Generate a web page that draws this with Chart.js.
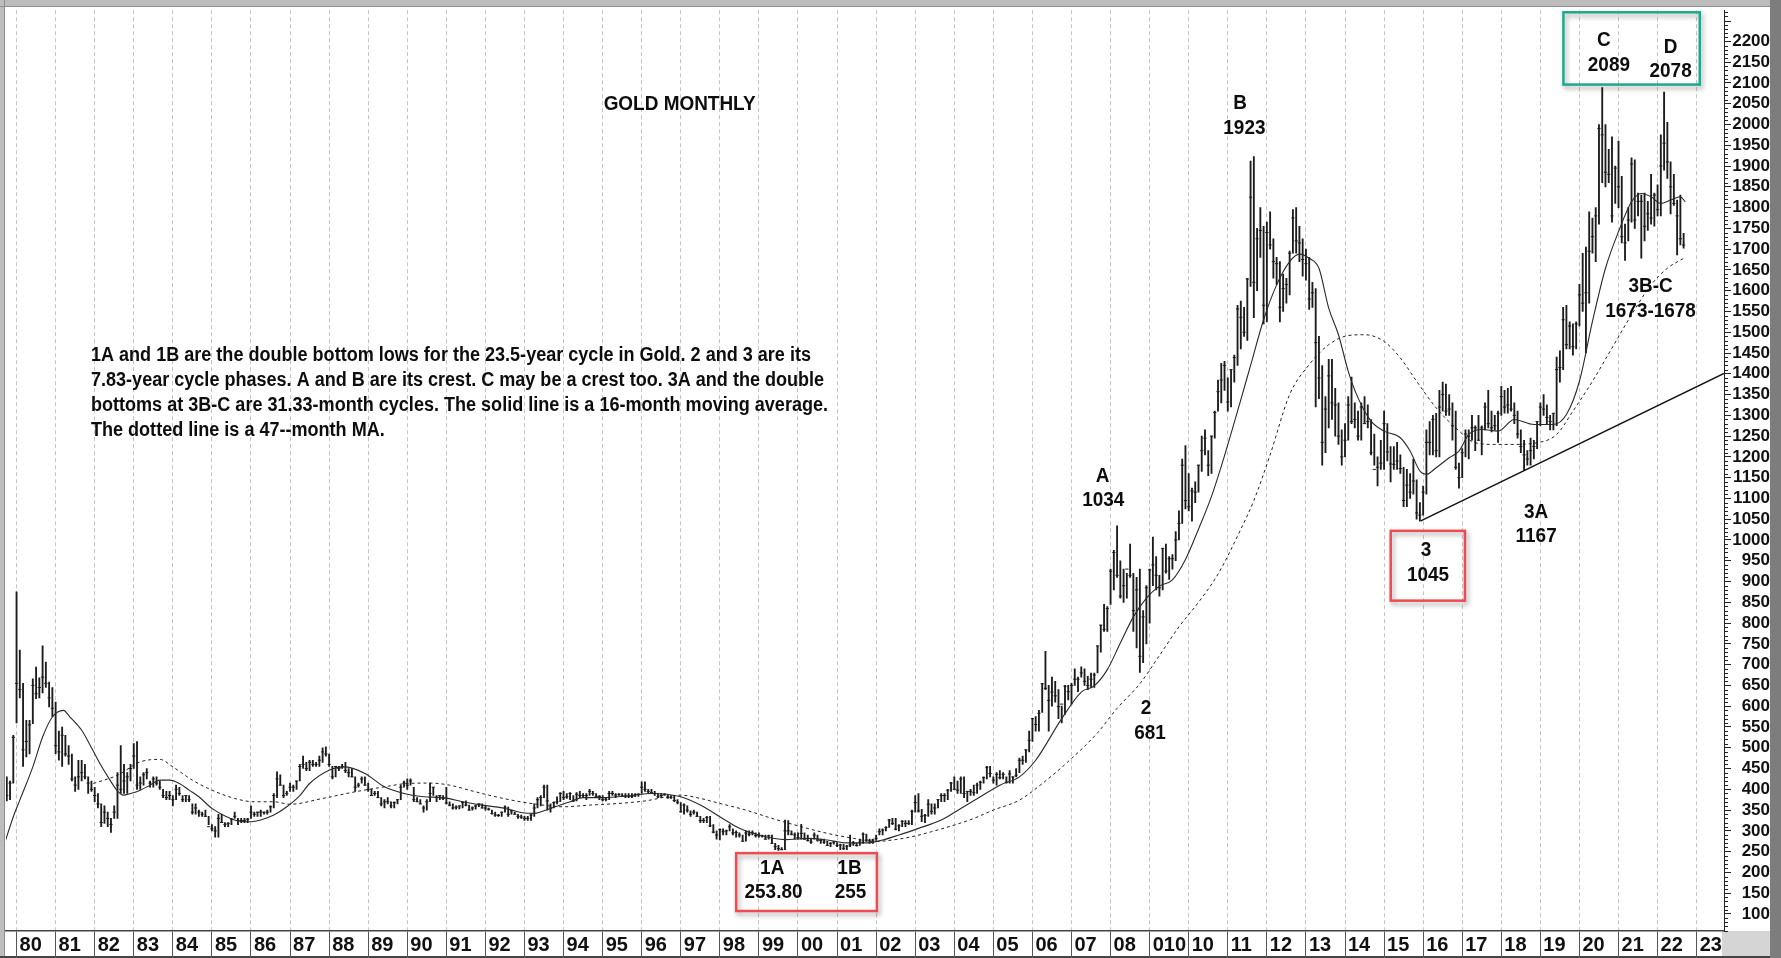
<!DOCTYPE html>
<html>
<head>
<meta charset="utf-8">
<title>Gold Monthly</title>
<script src="https://cdn.jsdelivr.net/npm/chart.js@4.4.1/dist/chart.umd.min.js"></script>
<style>
    html, body { margin: 0; padding: 0; background: #fff; }
    #wrap { width: 1781px; height: 958px; }
</style>
</head>
<body>
<div id="wrap"><canvas id="gold-chart" width="1781" height="958"></canvas></div>
<script>
// ===== Data (monthly bars, Oct 1979 .. Sep 2022) =====
const firstMonth = 1979.75; // Oct 1979 as decimal year

const highs = [
    /*1979*/ 430, 420, 530,
    /*1980*/ 875, 735, 655, 566, 566, 666, 694, 668, 745, 706, 658, 645,
    /*1981*/ 610, 540, 550, 530, 505, 485, 430, 470, 470, 460, 430, 420,
    /*1982*/ 405, 390, 365, 360, 345, 330, 360, 440, 505, 460, 440, 460,
    /*1983*/ 510, 515, 430, 440, 450, 420, 430, 430, 420, 400, 395, 395,
    /*1984*/ 385, 410, 405, 385, 385, 385, 365, 365, 350, 345, 350, 335,
    /*1985*/ 315, 310, 340, 340, 320, 320, 330, 345, 330, 330, 330, 330,
    /*1986*/ 360, 345, 345, 350, 345, 350, 360, 390, 442, 435, 410, 395,
    /*1987*/ 415, 410, 420, 460, 480, 465, 470, 470, 465, 480, 500, 502,
    /*1988*/ 485, 455, 455, 455, 460, 465, 450, 450, 430, 415, 430, 430,
    /*1989*/ 415, 400, 395, 395, 380, 375, 380, 370, 370, 375, 410, 420,
    /*1990*/ 425, 425, 405, 380, 375, 360, 375, 415, 405, 385, 385, 385,
    /*1991*/ 405, 370, 365, 360, 360, 370, 372, 362, 358, 362, 365, 365,
    /*1992*/ 360, 355, 350, 345, 340, 345, 360, 357, 350, 345, 340, 338,
    /*1993*/ 335, 335, 340, 365, 380, 385, 410, 410, 365, 370, 382, 392,
    /*1994*/ 395, 390, 392, 385, 392, 395, 390, 390, 400, 395, 390, 385,
    /*1995*/ 385, 380, 395, 395, 390, 390, 390, 390, 390, 390, 390, 390,
    /*1996*/ 418, 418, 400, 400, 395, 390, 390, 390, 386, 385, 385, 375,
    /*1997*/ 368, 365, 360, 348, 350, 345, 335, 330, 335, 335, 315, 300,
    /*1998*/ 305, 305, 302, 315, 305, 300, 295, 290, 300, 300, 300, 295,
    /*1999*/ 295, 290, 290, 290, 290, 270, 265, 260, 326, 325, 300, 295,
    /*2000*/ 295, 316, 295, 290, 280, 295, 290, 280, 280, 275, 272, 275,
    /*2001*/ 272, 268, 268, 265, 290, 275, 270, 280, 295, 292, 280, 280,
    /*2002*/ 290, 305, 305, 310, 328, 330, 330, 315, 325, 325, 325, 350,
    /*2003*/ 385, 390, 352, 340, 375, 365, 365, 375, 390, 390, 400, 417,
    /*2004*/ 430, 420, 430, 430, 395, 400, 410, 415, 420, 430, 455, 455,
    /*2005*/ 430, 440, 445, 440, 430, 445, 430, 450, 475, 480, 495, 540,
    /*2006*/ 570, 575, 590, 655, 732, 650, 670, 660, 640, 600, 650, 650,
    /*2007*/ 655, 690, 670, 695, 690, 672, 680, 680, 745, 795, 845, 840,
    /*2008*/ 930, 975, 1034, 950, 930, 920, 990, 920, 910, 930, 830, 890,
    /*2009*/ 930, 1007, 960, 915, 980, 990, 960, 965, 1020, 1070, 1195, 1227,
    /*2010*/ 1160, 1125, 1140, 1180, 1250, 1265, 1215, 1250, 1310, 1385, 1425, 1430,
    /*2011*/ 1390, 1410, 1445, 1565, 1575, 1560, 1630, 1912, 1923, 1750, 1800, 1755,
    /*2012*/ 1765, 1790, 1725, 1680, 1670, 1640, 1630, 1695, 1795, 1800, 1755, 1725,
    /*2013*/ 1700, 1680, 1620, 1605, 1490, 1420, 1345, 1435, 1435, 1365, 1330, 1265,
    /*2014*/ 1280, 1345, 1392, 1330, 1310, 1330, 1345, 1325, 1290, 1255, 1200, 1240,
    /*2015*/ 1310, 1280, 1225, 1225, 1235, 1205, 1175, 1170, 1160, 1195, 1145, 1090,
    /*2016*/ 1130, 1265, 1285, 1300, 1305, 1360, 1380, 1375, 1350, 1330, 1310, 1185,
    /*2017*/ 1220, 1265, 1265, 1300, 1275, 1300, 1275, 1330, 1360, 1310, 1300, 1310,
    /*2018*/ 1370, 1360, 1365, 1370, 1330, 1310, 1265, 1240, 1215, 1245, 1240, 1285,
    /*2019*/ 1330, 1350, 1325, 1300, 1305, 1440, 1455, 1560, 1565, 1525, 1520, 1525,
    /*2020*/ 1615, 1690, 1705, 1790, 1775, 1800, 2000, 2089, 2000, 1940, 1970, 1900,
    /*2021*/ 1960, 1875, 1760, 1800, 1920, 1915, 1835, 1830, 1835, 1815, 1880, 1835,
    /*2022*/ 1855, 1975, 2078, 2005, 1910, 1880, 1818, 1830, 1738
];

const lows = [
    /*1979*/ 372, 375, 415,
    /*1980*/ 560, 620, 455, 478, 485, 558, 618, 620, 632, 645, 598, 575,
    /*1981*/ 486, 470, 455, 480, 460, 420, 395, 400, 420, 425, 390, 395,
    /*1982*/ 370, 355, 310, 318, 310, 296, 330, 330, 390, 390, 390, 420,
    /*1983*/ 450, 400, 400, 410, 425, 405, 405, 410, 400, 380, 375, 375,
    /*1984*/ 360, 375, 385, 370, 370, 370, 340, 340, 335, 335, 335, 315,
    /*1985*/ 300, 285, 285, 320, 310, 310, 315, 330, 315, 320, 320, 320,
    /*1986*/ 330, 335, 335, 335, 340, 340, 345, 355, 380, 410, 380, 385,
    /*1987*/ 395, 395, 400, 420, 450, 445, 445, 455, 455, 455, 465, 480,
    /*1988*/ 455, 425, 430, 445, 450, 440, 430, 430, 395, 405, 415, 410,
    /*1989*/ 395, 385, 385, 380, 360, 355, 365, 355, 355, 365, 375, 405,
    /*1990*/ 400, 410, 370, 370, 365, 345, 350, 370, 385, 370, 375, 375,
    /*1991*/ 365, 360, 352, 352, 353, 355, 360, 350, 350, 352, 358, 355,
    /*1992*/ 350, 350, 340, 335, 335, 335, 345, 335, 340, 340, 330, 330,
    /*1993*/ 325, 325, 325, 335, 355, 360, 380, 350, 345, 355, 365, 370,
    /*1994*/ 375, 378, 375, 370, 372, 380, 380, 375, 385, 385, 380, 375,
    /*1995*/ 372, 372, 375, 385, 380, 385, 382, 380, 380, 380, 382, 383,
    /*1996*/ 390, 395, 390, 390, 385, 380, 380, 385, 378, 378, 370, 365,
    /*1997*/ 345, 340, 345, 335, 340, 335, 320, 320, 320, 310, 295, 280,
    /*1998*/ 278, 290, 290, 300, 290, 285, 285, 275, 275, 288, 290, 285,
    /*1999*/ 285, 285, 280, 280, 270, 255, 253, 254, 255, 290, 290, 280,
    /*2000*/ 280, 280, 280, 275, 270, 280, 275, 270, 270, 265, 262, 268,
    /*2001*/ 262, 255, 255, 255, 262, 265, 263, 265, 270, 275, 270, 270,
    /*2002*/ 277, 290, 290, 300, 308, 315, 302, 300, 310, 310, 315, 315,
    /*2003*/ 345, 345, 322, 320, 335, 340, 340, 355, 370, 370, 375, 395,
    /*2004*/ 400, 390, 390, 380, 370, 385, 385, 390, 400, 415, 425, 430,
    /*2005*/ 415, 410, 425, 425, 415, 415, 415, 430, 440, 460, 465, 490,
    /*2006*/ 515, 540, 540, 585, 640, 540, 600, 610, 570, 560, 580, 615,
    /*2007*/ 605, 650, 635, 670, 650, 640, 645, 645, 680, 730, 780, 780,
    /*2008*/ 845, 880, 910, 860, 850, 860, 910, 780, 740, 681, 705, 750,
    /*2009*/ 800, 890, 880, 865, 880, 920, 905, 930, 950, 1000, 1040, 1075,
    /*2010*/ 1070, 1045, 1090, 1115, 1165, 1205, 1155, 1160, 1245, 1310, 1330, 1360,
    /*2011*/ 1310, 1320, 1380, 1420, 1460, 1490, 1480, 1610, 1535, 1600, 1680, 1520,
    /*2012*/ 1525, 1700, 1630, 1615, 1525, 1550, 1570, 1590, 1690, 1690, 1670, 1635,
    /*2013*/ 1625, 1555, 1560, 1320, 1340, 1180, 1210, 1270, 1290, 1250, 1230, 1180,
    /*2014*/ 1200, 1240, 1280, 1270, 1240, 1240, 1280, 1270, 1205, 1180, 1130, 1170,
    /*2015*/ 1170, 1190, 1140, 1170, 1170, 1160, 1080, 1080, 1100, 1110, 1050, 1045,
    /*2016*/ 1060, 1110, 1205, 1205, 1200, 1200, 1310, 1300, 1300, 1240, 1170, 1125,
    /*2017*/ 1150, 1200, 1195, 1240, 1215, 1240, 1205, 1265, 1270, 1260, 1265, 1235,
    /*2018*/ 1300, 1305, 1305, 1310, 1280, 1245, 1210, 1167, 1180, 1180, 1195, 1220,
    /*2019*/ 1275, 1300, 1280, 1265, 1265, 1275, 1380, 1410, 1460, 1460, 1445, 1460,
    /*2020*/ 1515, 1550, 1450, 1570, 1690, 1670, 1760, 1860, 1850, 1860, 1765, 1810,
    /*2021*/ 1800, 1715, 1673, 1720, 1765, 1750, 1780, 1678, 1720, 1745, 1760, 1755,
    /*2022*/ 1780, 1780, 1890, 1870, 1785, 1805, 1686, 1710, 1702
];

const closes = [
    /*1979*/ 385, 415, 525,
    /*1980*/ 655, 640, 495, 515, 555, 650, 630, 645, 670, 655, 620, 595,
    /*1981*/ 505, 490, 530, 485, 480, 425, 410, 430, 440, 430, 415, 400,
    /*1982*/ 385, 365, 320, 345, 330, 315, 345, 410, 400, 420, 430, 450,
    /*1983*/ 480, 410, 415, 435, 440, 415, 425, 415, 405, 385, 380, 385,
    /*1984*/ 375, 400, 390, 375, 385, 375, 345, 355, 345, 340, 335, 310,
    /*1985*/ 305, 300, 330, 320, 315, 318, 328, 335, 325, 325, 325, 328,
    /*1986*/ 345, 340, 345, 345, 345, 345, 358, 385, 425, 410, 385, 390,
    /*1987*/ 405, 405, 420, 455, 460, 450, 465, 460, 460, 470, 490, 485,
    /*1988*/ 460, 430, 455, 450, 455, 445, 440, 430, 405, 410, 425, 410,
    /*1989*/ 400, 385, 390, 380, 365, 370, 370, 360, 368, 375, 405, 415,
    /*1990*/ 410, 420, 375, 370, 365, 355, 370, 390, 405, 380, 385, 378,
    /*1991*/ 367, 362, 355, 357, 360, 368, 362, 350, 355, 360, 365, 355,
    /*1992*/ 355, 352, 342, 338, 337, 345, 357, 340, 348, 340, 335, 333,
    /*1993*/ 330, 330, 338, 355, 375, 380, 405, 372, 355, 368, 370, 390,
    /*1994*/ 380, 382, 390, 372, 388, 385, 385, 385, 395, 390, 383, 383,
    /*1995*/ 375, 376, 390, 390, 386, 388, 384, 384, 384, 383, 387, 388,
    /*1996*/ 405, 400, 395, 392, 390, 382, 385, 387, 380, 380, 373, 369,
    /*1997*/ 346, 362, 350, 340, 345, 335, 325, 325, 332, 312, 297, 290,
    /*1998*/ 303, 298, 300, 310, 295, 296, 290, 275, 295, 292, 295, 289,
    /*1999*/ 288, 288, 280, 288, 270, 262, 257, 255, 300, 300, 292, 290,
    /*2000*/ 284, 294, 280, 277, 273, 290, 278, 277, 273, 265, 270, 273,
    /*2001*/ 265, 266, 258, 263, 266, 270, 265, 273, 292, 278, 276, 278,
    /*2002*/ 282, 298, 302, 308, 326, 318, 304, 312, 323, 318, 318, 347,
    /*2003*/ 368, 348, 335, 337, 364, 347, 355, 375, 385, 385, 398, 415,
    /*2004*/ 400, 398, 425, 390, 395, 395, 392, 410, 417, 428, 453, 438,
    /*2005*/ 422, 436, 428, 436, 417, 437, 430, 434, 470, 470, 495, 518,
    /*2006*/ 570, 556, 583, 654, 643, 614, 634, 625, 599, 605, 648, 635,
    /*2007*/ 650, 665, 665, 680, 660, 650, 665, 675, 745, 795, 785, 835,
    /*2008*/ 925, 970, 915, 865, 890, 930, 915, 830, 880, 720, 815, 885,
    /*2009*/ 928, 940, 915, 885, 980, 925, 955, 955, 1000, 1040, 1180, 1095,
    /*2010*/ 1080, 1118, 1115, 1180, 1215, 1245, 1180, 1250, 1307, 1357, 1385, 1420,
    /*2011*/ 1332, 1410, 1439, 1556, 1536, 1500, 1628, 1825, 1620, 1725, 1745, 1565,
    /*2012*/ 1740, 1710, 1670, 1665, 1560, 1605, 1615, 1690, 1775, 1720, 1715, 1675,
    /*2013*/ 1665, 1580, 1595, 1475, 1390, 1235, 1315, 1395, 1330, 1325, 1250, 1200,
    /*2014*/ 1240, 1325, 1285, 1290, 1250, 1320, 1280, 1285, 1210, 1170, 1175, 1185,
    /*2015*/ 1280, 1212, 1183, 1182, 1190, 1172, 1095, 1132, 1115, 1142, 1065, 1060,
    /*2016*/ 1115, 1235, 1235, 1290, 1215, 1320, 1350, 1310, 1315, 1275, 1175, 1150,
    /*2017*/ 1210, 1255, 1250, 1270, 1270, 1240, 1270, 1320, 1280, 1270, 1275, 1305,
    /*2018*/ 1345, 1320, 1325, 1315, 1300, 1255, 1225, 1205, 1195, 1215, 1225, 1285,
    /*2019*/ 1320, 1315, 1295, 1285, 1305, 1410, 1415, 1530, 1470, 1515, 1465, 1520,
    /*2020*/ 1590, 1570, 1595, 1695, 1730, 1780, 1990, 1975, 1885, 1880, 1780, 1895,
    /*2021*/ 1850, 1730, 1715, 1770, 1905, 1770, 1815, 1815, 1755, 1785, 1775, 1830,
    /*2022*/ 1795, 1900, 1955, 1910, 1850, 1810, 1780, 1725, 1710
];

// 16-month MA (solid), read at sample months counted from Jan 1980
const ma16Months = [-3.5, -1, 1, 5, 8, 11, 14.4, 16.4, 20, 22.6, 25.6, 28.7, 30.8, 32.8, 35, 38, 41, 44, 47, 50,
    53, 56, 60, 64.5, 68.5, 72, 75, 79, 83, 87, 90, 96, 101, 107, 113, 119, 125, 131, 137, 143,
    150, 156, 159, 164, 170, 174, 180, 188, 195, 204, 210, 216, 222, 228, 236, 243, 249, 255, 261, 266,
    271, 277, 284, 290, 296, 302, 308, 313, 321, 327, 331, 335, 339, 343, 347, 351, 355, 359, 363, 367,
    371, 375, 379, 383, 387, 391, 394, 397, 400, 403, 406, 409, 412, 416, 420, 425, 428, 431, 433, 436,
    440, 443, 446, 450, 455, 460, 466, 472, 476, 480, 484, 488, 492, 496, 499, 502, 505, 508, 511, 512.5];
const ma16Values = [274, 334, 374, 454, 526, 574, 590, 574, 542, 506, 462, 422, 398, 386, 390, 398, 410, 422, 422, 414,
    398, 382, 354, 334, 323, 322, 326, 338, 358, 385, 414, 446, 454, 438, 406, 390, 382, 380, 370, 362,
    354, 343, 342, 354, 370, 380, 380, 384, 390, 382, 362, 334, 306, 290, 279, 282, 278, 271, 271, 278,
    290, 306, 326, 354, 382, 410, 430, 470, 570, 634, 649, 688, 752, 815, 860, 889, 904, 953, 1026, 1105,
    1203, 1310, 1420, 1530, 1614, 1670, 1688, 1678, 1654, 1558, 1494, 1406, 1342, 1286, 1262, 1246, 1214, 1166, 1158, 1174,
    1198, 1214, 1254, 1266, 1262, 1290, 1278, 1278, 1302, 1382, 1526, 1654, 1742, 1814, 1834, 1826, 1810, 1818, 1826, 1814];

// 47-month MA (dotted)
const ma47Months = [23.6, 31, 38, 44, 48, 54, 60, 67, 73, 79, 84, 94, 104, 113, 120, 127, 133, 139, 145, 152,
    158, 168, 176, 185, 193, 204, 210, 216, 224, 232, 241, 249, 257, 263, 269, 275, 281, 288, 294, 300,
    308, 316, 324, 332, 338, 345, 351, 357, 363, 369, 376, 380, 385, 391, 397, 403, 409, 414, 420, 425,
    430, 436, 442, 448, 454, 459, 467, 473, 478, 484, 490, 496, 502, 507, 512.5];
const ma47Values = [414, 434, 466, 472, 454, 422, 398, 378, 370, 370, 364, 378, 394, 406, 414, 415, 410, 398, 386, 374,
    366, 358, 362, 366, 372, 386, 378, 366, 350, 330, 310, 294, 282, 274, 278, 286, 298, 314, 330, 350,
    374, 420, 474, 536, 595, 654, 722, 791, 850, 918, 1026, 1095, 1205, 1350, 1422, 1470, 1492, 1494, 1478, 1438,
    1382, 1318, 1270, 1234, 1230, 1230, 1234, 1254, 1310, 1382, 1462, 1542, 1614, 1654, 1680];

// trend line from the 2015 low
const trendX = [2015.94, 2023.70];
const trendY = [1046, 1401];

// x-axis year labels (2009 is printed as "010" on the original)
const yearLabels = {2009: '010'};

// ===== Annotations (anchored in data coordinates) =====
const titleNote = { text: 'GOLD MONTHLY', x: 1996.97, y: 2048 };
const paragraph = [
    '1A and 1B are the double bottom lows for the 23.5-year cycle in Gold. 2 and 3 are its',
    '7.83-year cycle phases. A and B are its crest. C may be a crest too. 3A and the double',
    'bottoms at 3B-C are 31.33-month cycles. The solid line is a 16-month moving average.',
    'The dotted line is a 47--month MA.'
];
const paragraphX = 1981.905;
const paragraphY = [1445, 1384, 1323.6, 1262.8];

const labelNotes = [
    { text: 'A', x: 2007.795, y: 1154 }, { text: '1034', x: 2007.813, y: 1095 },
    { text: 'B', x: 2011.313, y: 2050 }, { text: '1923', x: 2011.425, y: 1990 },
    { text: '2', x: 2008.905, y: 595 }, { text: '681', x: 2009.008, y: 536 },
    { text: '3', x: 2016.076, y: 975 }, { text: '1045', x: 2016.125, y: 915 },
    { text: '3A', x: 2018.892, y: 1067 }, { text: '1167', x: 2018.892, y: 1009 },
    { text: 'C', x: 2020.627, y: 2202 }, { text: '2089', x: 2020.754, y: 2142 },
    { text: 'D', x: 2022.333, y: 2186 }, { text: '2078', x: 2022.333, y: 2128 },
    { text: '3B-C', x: 2021.821, y: 1610 }, { text: '1673-1678', x: 2021.821, y: 1550 },
    { text: '1A', x: 1999.34, y: 211 }, { text: '253.80', x: 1999.373, y: 153 },
    { text: '1B', x: 2001.317, y: 211 }, { text: '255', x: 2001.343, y: 153 }
];

const boxNotes = [
    { x1: 1998.417, x2: 2002.02, y1: 246.4, y2: 107.1, color: '#ef4b52' },
    { x1: 2015.17, x2: 2017.07, y1: 1022, y2: 854, color: '#ef4b52' },
    { x1: 2019.59, x2: 2023.08, y1: 2270, y2: 2096, color: '#1fa98c' }
];

const FONT = '"Liberation Sans", Arial, Helvetica, sans-serif';

// ===== Plugins =====
const goldFrame = {
    id: 'goldFrame',
    beforeDraw(chart) {
        const { ctx, width, height, chartArea } = chart;
        ctx.save();
        ctx.fillStyle = '#ffffff';
        ctx.fillRect(0, 0, width, height);
        ctx.fillStyle = '#bdbdbd';
        ctx.fillRect(0, 0, width, 6);
        ctx.fillRect(0, 0, 4, height);
        ctx.fillStyle = '#8e8e8e';
        ctx.fillRect(0, 6, width, 1);
        ctx.fillRect(4, 0, 1, height);
        ctx.fillStyle = '#d5d5d5';
        ctx.fillRect(chartArea.right - 2, chartArea.bottom, width - chartArea.right - 9, height - chartArea.bottom);
        ctx.fillStyle = '#7d7d7d';
        ctx.fillRect(width - 11, 0, 11, height);
        ctx.fillStyle = '#444';
        ctx.fillRect(0, height - 2, width - 11, 2);
        ctx.restore();
    },
    afterDraw(chart) {
        // minor ticks on the price axis, every 10
        const { ctx, scales: { y } } = chart;
        ctx.save();
        ctx.strokeStyle = '#222';
        ctx.lineWidth = 1;
        ctx.beginPath();
        for (let v = 60; v <= 2270; v += 10) {
            if (v % 50 === 0 && v <= 2200 && v >= 100) continue;
            const py = Math.round(y.getPixelForValue(v)) + 0.5;
            const len = v % 50 === 0 ? 7 : 4;
            ctx.moveTo(y.left, py);
            ctx.lineTo(y.left + len, py);
        }
        ctx.stroke();
        ctx.restore();
    }
};

function drawCondensed(ctx, text, px, py, sx, align) {
    ctx.save();
    ctx.translate(px, py);
    ctx.scale(sx, 1);
    ctx.textAlign = align;
    ctx.fillText(text, 0, 0);
    ctx.restore();
}

const goldNotes = {
    id: 'goldNotes',
    afterDatasetsDraw(chart) {
        const { ctx, scales: { x, y } } = chart;
        ctx.save();
        ctx.fillStyle = '#0d0d0d';
        ctx.textBaseline = 'middle';

        // paragraph, squeezed to the width it has on the original
        ctx.font = `bold 20px ${FONT}`;
        const sx = 720 / ctx.measureText(paragraph[0]).width;
        paragraph.forEach((line, i) => {
            drawCondensed(ctx, line, x.getPixelForValue(paragraphX), y.getPixelForValue(paragraphY[i]), sx, 'left');
        });

        ctx.font = `bold 21px ${FONT}`;
        drawCondensed(ctx, titleNote.text, x.getPixelForValue(titleNote.x), y.getPixelForValue(titleNote.y), sx, 'center');
        labelNotes.forEach(n => {
            drawCondensed(ctx, n.text, x.getPixelForValue(n.x), y.getPixelForValue(n.y), sx, 'center');
        });

        // outlined boxes with a soft shadow
        boxNotes.forEach(b => {
            const left = x.getPixelForValue(b.x1);
            const top = y.getPixelForValue(b.y1);
            const w = x.getPixelForValue(b.x2) - left;
            const h = y.getPixelForValue(b.y2) - top;
            ctx.save();
            ctx.shadowColor = 'rgba(0,0,0,0.35)';
            ctx.shadowBlur = 5;
            ctx.shadowOffsetX = 2;
            ctx.shadowOffsetY = 3;
            ctx.strokeStyle = b.color;
            ctx.lineWidth = 2.5;
            ctx.strokeRect(left, top, w, h);
            ctx.restore();
        });
        ctx.restore();
    }
};

// ===== Chart =====
const barData = highs.map((h, i) => ({ x: firstMonth + i / 12, y: [lows[i], h] }));
const closeData = closes.map((c, i) => ({ x: firstMonth + i / 12, y: c }));
const ma16Data = ma16Months.map((m, i) => ({ x: 1980 + m / 12, y: ma16Values[i] }));
const ma47Data = ma47Months.map((m, i) => ({ x: 1980 + m / 12, y: ma47Values[i] }));
const trendData = trendX.map((t, i) => ({ x: t, y: trendY[i] }));

Chart.defaults.font.family = FONT;

new Chart(document.getElementById('gold-chart'), {
    type: 'line',
    data: {
        datasets: [
            { type: 'bar', label: 'High-Low', data: barData, backgroundColor: '#1c1c1c', borderWidth: 0, barThickness: 1.2, grouped: false, order: 4 },
            { type: 'line', label: 'Close', data: closeData, showLine: false, pointStyle: 'line', pointRadius: 1.6, pointBorderWidth: 1, pointBorderColor: '#1c1c1c', order: 3 },
            { type: 'line', label: '16-month MA', data: ma16Data, borderColor: '#2a2a2a', borderWidth: 1.1, pointRadius: 0, cubicInterpolationMode: 'monotone', order: 2 },
            { type: 'line', label: '47-month MA', data: ma47Data, borderColor: '#222', borderWidth: 1, borderDash: [3, 3], pointRadius: 0, cubicInterpolationMode: 'monotone', order: 1 },
            { type: 'line', label: 'Trend', data: trendData, borderColor: '#111', borderWidth: 1.4, pointRadius: 0, order: 0 }
        ]
    },
    options: {
        responsive: false,
        animation: false,
        events: [],
        layout: { padding: { left: 6, top: 8, right: 11, bottom: 0 } },
        plugins: {
            legend: { display: false },
            tooltip: { enabled: false }
        },
        scales: {
            x: {
                type: 'linear',
                min: 1979.73,
                max: 2023.70,
                offset: false,
                afterFit: s => { s.height = 27; },
                ticks: {
                    stepSize: 1,
                    includeBounds: false,
                    autoSkip: false,
                    maxRotation: 0,
                    align: 'start',
                    labelOffset: 3,
                    padding: -25,
                    color: '#111',
                    font: { size: 20, weight: 'bold' },
                    callback: v => yearLabels[v] || String(v % 100).padStart(2, '0')
                },
                grid: { color: '#c4c4c4', lineWidth: 1, offset: false, drawTicks: true, tickLength: 27, tickColor: '#555', tickBorderDash: [] },
                border: { display: true, color: '#444', width: 1.5, dash: [4, 3] }
            },
            y: {
                type: 'linear',
                position: 'right',
                min: 59,
                max: 2275,
                afterFit: s => { s.width = 46; },
                afterBuildTicks: s => { s.ticks = s.ticks.filter(t => t.value >= 100 && t.value <= 2200); },
                ticks: {
                    stepSize: 50,
                    includeBounds: false,
                    autoSkip: false,
                    padding: 0,
                    crossAlign: 'far',
                    color: '#111',
                    font: { size: 17, weight: 'bold' },
                    callback: v => String(v)
                },
                grid: { drawOnChartArea: false, drawTicks: true, tickLength: 7, tickColor: '#222' },
                border: { display: true, color: '#222', width: 1 }
            }
        }
    },
    plugins: [goldFrame, goldNotes]
});
</script>
</body>
</html>
